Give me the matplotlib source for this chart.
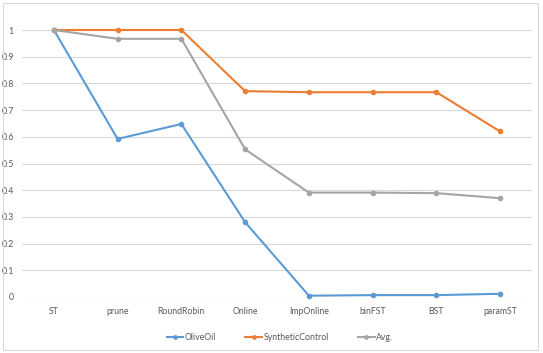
import matplotlib
matplotlib.use("Agg")
import matplotlib.pyplot as plt
from matplotlib.patches import Rectangle

categories = ["ST", "prune", "RoundRobin", "Online", "ImpOnline", "binFST", "BST", "paramST"]
olive_oil = [1.0, 0.592, 0.648, 0.28, 0.005, 0.007, 0.007, 0.012]
synthetic_control = [1.0, 1.0, 1.0, 0.771, 0.767, 0.767, 0.767, 0.62]
avg = [1.0, 0.967, 0.967, 0.553, 0.391, 0.391, 0.389, 0.37]
yticks = [0, 0.1, 0.2, 0.3, 0.4, 0.5, 0.6, 0.7, 0.8, 0.9, 1]
ytick_labels = ["0", "0.1", "0.2", "0.3", "0.4", "0.5", "0.6", "0.7", "0.8", "0.9", "1"]

plt.rcParams['font.family'] = ['Lato', 'DejaVu Sans']

W, H = 543, 353
fig = plt.figure(figsize=(W / 100, H / 100), dpi=100)
fig.patch.set_facecolor("white")
fig.add_artist(Rectangle((3 / W, 3 / H), 535 / W, 347 / H, transform=fig.transFigure,
                         fill=False, edgecolor="#D9D9D9", linewidth=0.8))

left, right = 22 / W, 532 / W
bottom, top = 1 - 297 / H, 1 - 30 / H
ax = fig.add_axes([left, bottom, right - left, top - bottom])
x = list(range(len(categories)))
series = [("OliveOil", olive_oil, "#5B9BD5"),
          ("SyntheticControl", synthetic_control, "#ED7D31"),
          ("Avg.", avg, "#A5A5A5")]
for name, vals, col in series:
    ax.plot(x, vals, color=col, linewidth=1.5, marker="o", markersize=3,
            label=name, clip_on=False, zorder=3)

ax.set_xlim(-0.5, len(categories) - 0.5)
ax.set_ylim(0, 1)
ax.set_yticks(yticks)
ax.set_yticklabels(ytick_labels)
ax.set_xticks(x)
ax.set_xticklabels(categories)
ax.tick_params(axis="both", length=0, colors="#595959", labelsize=6.3)
ax.tick_params(axis="y", pad=6)
ax.tick_params(axis="x", pad=7)
for s in ax.spines.values():
    s.set_visible(False)
ax.grid(axis="y", color="#D9D9D9", linewidth=0.8)
ax.set_axisbelow(True)

leg = fig.legend(loc="center", bbox_to_anchor=(280 / W, 1 - 338 / H), ncol=3,
                 frameon=False, fontsize=6.3, handlelength=1.9, columnspacing=3.3,
                 handletextpad=0.2, markerscale=0.8)
for t in leg.get_texts():
    t.set_color("#595959")

fig.savefig("out.png", dpi=100)
